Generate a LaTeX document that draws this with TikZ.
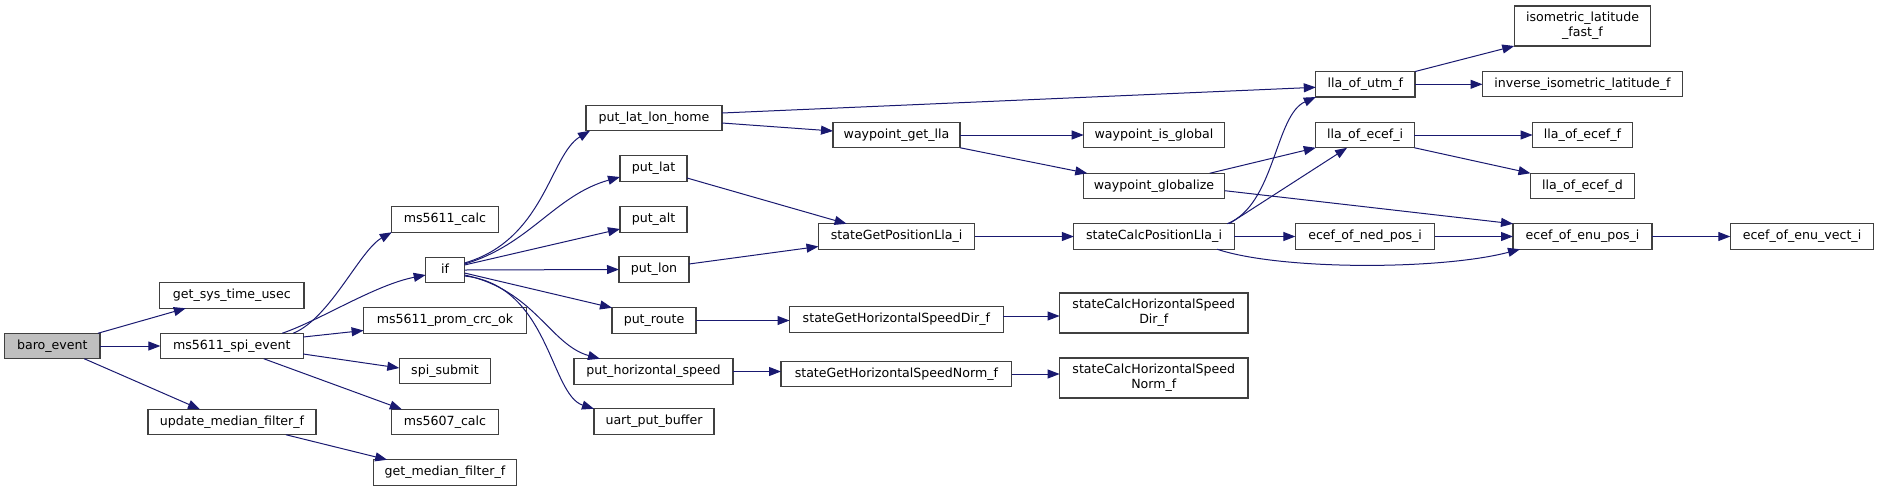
\documentclass[tikz,border=0pt]{standalone}
\usepackage{fontspec}
\setmainfont{DejaVu Sans}
\usetikzlibrary{arrows.meta}
\definecolor{edgeblue}{RGB}{25,25,112}
\definecolor{boxline}{RGB}{64,64,64}
\definecolor{rootgray}{RGB}{191,191,191}
\tikzset{
  fnbase/.style={draw=boxline, line width=1.2pt, fill=white, inner sep=0pt, outer sep=0pt,
    minimum height=25.5pt, font=\fontsize{12.6}{15}\selectfont},
  fn/.style={fnbase, text height=9pt, text depth=3pt},
  fntwo/.style={fnbase, align=center, minimum height=40pt},
  root/.style={fn, fill=rootgray},
  call/.style={draw=edgeblue, line width=1pt, -{Triangle[length=12pt,width=9pt]}}
}

\begin{document}
\begin{tikzpicture}[x=1pt,y=1pt,yscale=-1,xscale=1]
\useasboundingbox (0,0) rectangle (1879,491);

%Column 1: caller
\node[root, minimum width=95.4] (baro) at (52.3,346) {baro\_event};

%Column 2
\node[fn, minimum width=144.3] (getsys) at (231.8,295.5) {get\_sys\_time\_usec};
\node[fn, minimum width=142.8] (spievt) at (231.8,346) {ms5611\_spi\_event};
\node[fn, minimum width=168] (updmed) at (232,422) {update\_median\_filter\_f};

%Column 3
\node[fn, minimum width=106.4] (calc11) at (445,219.5) {ms5611\_calc};
\node[fn, minimum width=38.8] (ifn) at (445.1,270) {if};
\node[fn, minimum width=162.8] (crcok) at (445,320.5) {ms5611\_prom\_crc\_ok};
\node[fn, minimum width=91.4] (spisub) at (445,371) {spi\_submit};
\node[fn, minimum width=106.4] (calc07) at (445,422) {ms5607\_calc};
\node[fn, minimum width=143.6] (getmed) at (445,472.5) {get\_median\_filter\_f};

%Column 4
\node[fn, minimum width=136] (home) at (654,118) {put\_lat\_lon\_home};
\node[fn, minimum width=67] (putlat) at (653.5,168.5) {put\_lat};
\node[fn, minimum width=67] (putalt) at (653.5,219.5) {put\_alt};
\node[fn, minimum width=70] (putlon) at (654,269.5) {put\_lon};
\node[fn, minimum width=84] (route) at (654,320.5) {put\_route};
\node[fn, minimum width=159] (hspeed) at (653.5,371.5) {put\_horizontal\_speed};
\node[fn, minimum width=120] (uart) at (654,421.5) {uart\_put\_buffer};

%Column 5
\node[fn, minimum width=127] (wpget) at (896.5,135) {waypoint\_get\_lla};
\node[fn, minimum width=156.2] (sgpos) at (896.6,236.5) {stateGetPositionLla\_i};
\node[fn, minimum width=213.8] (sgdir) at (896.4,319.5) {stateGetHorizontalSpeedDir\_f};
\node[fn, minimum width=230.8] (sgnorm) at (896.4,374) {stateGetHorizontalSpeedNorm\_f};

%Column 6
\node[fn, minimum width=140.6] (wpis) at (1154,135) {waypoint\_is\_global};
\node[fn, minimum width=141.5] (wpglob) at (1154,186) {waypoint\_globalize};
\node[fn, minimum width=160.3] (scpos) at (1154,236.5) {stateCalcPositionLla\_i};
\node[fntwo, minimum width=188.4] (scdir) at (1153.8,313) {stateCalcHorizontalSpeed\\Dir\_f};
\node[fntwo, minimum width=188.4] (scnorm) at (1153.8,378) {stateCalcHorizontalSpeed\\Norm\_f};

%Column 7
\node[fn, minimum width=99.2] (utm) at (1365.4,84.3) {lla\_of\_utm\_f};
\node[fn, minimum width=98.6] (ecefi) at (1365.1,135) {lla\_of\_ecef\_i};
\node[fn, minimum width=139.4] (nedpos) at (1365.1,236.5) {ecef\_of\_ned\_pos\_i};

%Column 8
\node[fntwo, minimum width=136.5] (isofast) at (1582.5,26) {isometric\_latitude\\\_fast\_f};
\node[fn, minimum width=200] (inviso) at (1582.5,84) {inverse\_isometric\_latitude\_f};
\node[fn, minimum width=99.8] (eceff) at (1582.5,135) {lla\_of\_ecef\_f};
\node[fn, minimum width=104] (ecefd) at (1582.5,186) {lla\_of\_ecef\_d};
\node[fn, minimum width=139] (enupos) at (1582.5,236.5) {ecef\_of\_enu\_pos\_i};

%Column 9
\node[fn, minimum width=143.4] (enuvect) at (1802,236.5) {ecef\_of\_enu\_vect\_i};

%Calls from baro_event
\draw[call] ([xshift=-2pt]baro.north east) -- ([xshift=-46pt]getsys.south);
\draw[call] (baro.east) -- (spievt.west);
\draw[call] ([xshift=32pt]baro.south) -- ([xshift=-32pt]updmed.north);

%Calls from ms5611_spi_event
\draw[call] ([xshift=-10pt]spievt.north east) .. controls +(37,-15) and +(-32,18) .. (calc11.south west);
\draw[call] ([xshift=-21pt]spievt.north east) .. controls +(38,-13) and +(-51,10) .. ([yshift=5pt]ifn.west);
\draw[call] ([yshift=-9pt]spievt.east) -- ([yshift=10pt]crcok.west);
\draw[call] ([yshift=8pt]spievt.east) -- ([yshift=-3pt]spisub.west);
\draw[call] ([xshift=32pt]spievt.south) -- ([xshift=10pt]calc07.north west);
\draw[call] ([xshift=54pt]updmed.south) -- ([xshift=14pt]getmed.north west);

%Calls from if
\draw[call] ([yshift=-7pt]ifn.east) .. controls +(80,-23) and +(-40,24) .. ([xshift=4pt]home.south west);
\draw[call] ([yshift=-6pt]ifn.east) .. controls +(65,-19) and +(-65,18) .. ([yshift=8.5pt]putlat.west);
\draw[call] ([yshift=-5pt]ifn.east) -- ([yshift=9.5pt]putalt.west);
\draw[call] (ifn.east) -- (putlon.west);
\draw[call] ([yshift=3pt]ifn.east) -- (route.north west);
\draw[call] ([yshift=5pt]ifn.east) .. controls +(70,15) and +(-50,-14) .. ([xshift=26pt]hspeed.north west);
\draw[call] ([yshift=6pt]ifn.east) .. controls +(85,9) and +(-44,-14) .. (uart.north west);

%Column 4 to 5
\draw[call] ([yshift=-5pt]home.east) -- ([yshift=3pt]utm.west);
\draw[call] ([yshift=5pt]home.east) -- ([yshift=-4pt]wpget.west);
\draw[call] ([yshift=9.5pt]putlat.east) -- ([xshift=-50pt]sgpos.north);
\draw[call] ([yshift=-5.5pt]putlon.east) -- ([yshift=10pt]sgpos.west);
\draw[call] (route.east) -- (route.east -| sgdir.west);
\draw[call] (hspeed.east) -- (hspeed.east -| sgnorm.west);

%Column 5 to 6
\draw[call] (wpget.east) -- (wpis.west);
\draw[call] (wpget.south east) -- ([xshift=4pt]wpglob.north west);
\draw[call] (sgpos.east) -- (scpos.west);
\draw[call] ([yshift=-3.5pt]sgdir.east) -- ([yshift=3pt]scdir.west);
\draw[call] (sgnorm.east) -- (sgnorm.east -| scnorm.west);

%Column 6 onwards
\draw[call] ([xshift=-15pt]wpglob.north east) -- (ecefi.south west);
\draw[call] ([yshift=4.7pt]wpglob.east) -- (enupos.north west);
\draw[call] ([xshift=-7pt]scpos.north east) .. controls +(48,-19) and +(-41,18) .. (utm.south west);
\draw[call] ([xshift=-5pt]scpos.north east) -- ([xshift=-18pt]ecefi.south);
\draw[call] (scpos.east) -- (nedpos.west);
\draw[call] ([xshift=-17pt]scpos.south east) .. controls +(63,21) and +(-80,21) .. ([xshift=7pt]enupos.south west);

%Column 7 to 9
\draw[call] (utm.north east) -- (isofast.south west);
\draw[call] (utm.east) -- (utm.east -| inviso.west);
\draw[call] (ecefi.east) -- (eceff.west);
\draw[call] (ecefi.south east) -- (ecefd.north west);
\draw[call] (nedpos.east) -- (enupos.west);
\draw[call] (enupos.east) -- (enuvect.west);

\end{tikzpicture}
\end{document}
